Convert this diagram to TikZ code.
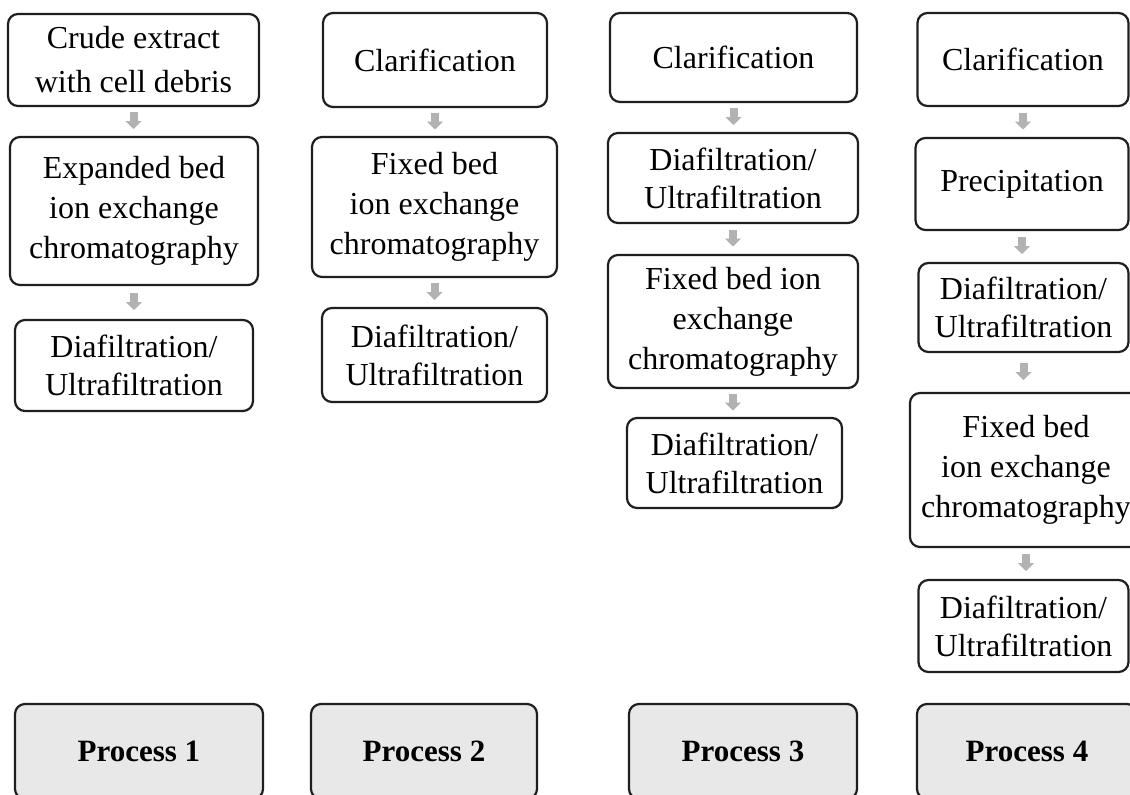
\documentclass[tikz,border=0pt]{standalone}
\usepackage{fontspec}
\setmainfont{Liberation Serif}
\usetikzlibrary{arrows.meta,calc}
\newcommand{\flowarr}[2]{\draw[flow] ($(#1.south)!0.5!(#1.south |- #2.north)$) ++(0,-9.5) -- ++(0,17);}
\begin{document}
\begin{tikzpicture}[x=1pt,y=-1pt,
  stepbox/.style={draw=black!88, line width=2.2pt, rounded corners=10pt, align=center,
    inner sep=0pt, font=\fontsize{32}{38}\selectfont},
  threeline/.style={font=\fontsize{32}{40}\selectfont},
  procbox/.style={stepbox, fill=black!9, font=\fontsize{31}{36}\selectfont\bfseries,
    minimum height=95pt},
  flow/.style={draw=black!30, line width=8pt, -{Triangle[width=16pt,length=8pt]}}]
\clip (0,0) rectangle (1130,795);
\fill[white] (0,0) rectangle (1130,795);
% Column 1
\node[stepbox, font=\fontsize{32}{44}\selectfont, minimum width=251pt, minimum height=92pt] (b11) at (133.5,60) {Crude extract\\with cell debris};
\node[stepbox, threeline, minimum width=248pt, minimum height=148pt] (b12) at (134,211) {Expanded bed\\ion exchange\\chromatography};
\node[stepbox, minimum width=238pt, minimum height=91pt] (b13) at (134,365.5) {Diafiltration/\\Ultrafiltration};
% Column 2
\node[stepbox, minimum width=224pt, minimum height=94pt] (b21) at (435,60) {Clarification};
\node[stepbox, threeline, minimum width=245pt, minimum height=140pt] (b22) at (434.5,207) {Fixed bed\\ion exchange\\chromatography};
\node[stepbox, minimum width=225pt, minimum height=94pt] (b23) at (434.5,355) {Diafiltration/\\Ultrafiltration};
% Column 3
\node[stepbox, minimum width=247pt, minimum height=89pt] (b31) at (733.5,57.5) {Clarification};
\node[stepbox, minimum width=250pt, minimum height=90pt] (b32) at (733,178) {Diafiltration/\\Ultrafiltration};
\node[stepbox, threeline, minimum width=250pt, minimum height=133pt] (b33) at (733,321.5) {Fixed bed ion\\exchange\\chromatography};
\node[stepbox, minimum width=215pt, minimum height=90pt] (b34) at (734.5,463) {Diafiltration/\\Ultrafiltration};
% Column 4
\node[stepbox, minimum width=211pt, minimum height=93pt] (b41) at (1023,59.5) {Clarification};
\node[stepbox, minimum width=213pt, minimum height=92pt] (b42) at (1022,184) {Precipitation};
\node[stepbox, minimum width=210pt, minimum height=89pt] (b43) at (1023.5,307.5) {Diafiltration/\\Ultrafiltration};
\node[stepbox, threeline, minimum width=232pt, minimum height=154pt] (b44) at (1026,470) {Fixed bed\\ion exchange\\chromatography};
\node[stepbox, minimum width=210pt, minimum height=92pt] (b45) at (1023.5,626) {Diafiltration/\\Ultrafiltration};
% Process labels
\node[procbox, minimum width=248pt] (p1) at (139,751.5) {Process 1};
\node[procbox, minimum width=226pt] (p2) at (424,751.5) {Process 2};
\node[procbox, minimum width=228pt] (p3) at (743,751.5) {Process 3};
\node[procbox, minimum width=220pt] (p4) at (1027,751.5) {Process 4};
% Arrows
\flowarr{b11}{b12}
\flowarr{b12}{b13}
\flowarr{b21}{b22}
\flowarr{b22}{b23}
\flowarr{b31}{b32}
\flowarr{b32}{b33}
\flowarr{b33}{b34}
\flowarr{b41}{b42}
\flowarr{b42}{b43}
\flowarr{b43}{b44}
\flowarr{b44}{b45}
\end{tikzpicture}
\end{document}
